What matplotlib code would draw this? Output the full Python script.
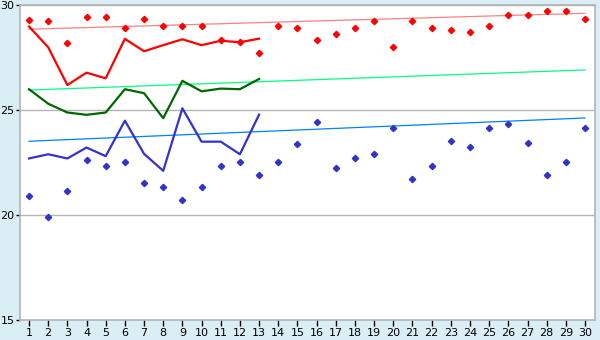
import matplotlib
matplotlib.use('Agg')
import matplotlib.pyplot as plt
import numpy as np

days = list(range(1, 31))

red_pts = [29.32, 29.24, 28.22, 29.43, 29.43, 28.9, 29.33, 29.0, 29.0, 29.0,
           28.33, 28.24, 27.71, 29.0, 28.9, 28.33, 28.62, 28.9, 29.24, 28.0,
           29.24, 28.9, 28.81, 28.71, 29.0, 29.52, 29.52, 29.71, 29.71, 29.33]
blue_pts = [20.9, 19.9, 21.14, 22.62, 22.33, 22.52, 21.52, 21.33, 20.71, 21.33,
            22.33, 22.52, 21.9, 22.52, 23.41, 24.43, 22.24, 22.71, 22.9, 24.14,
            21.71, 22.33, 23.52, 23.24, 24.14, 24.33, 23.43, 21.9, 22.52, 24.14]

red_line = [28.99, 28.0, 26.2, 26.79, 26.52, 28.4, 27.81, 28.1, 28.38, 28.1, 28.31, 28.24, 28.41]
green_line = [26.0, 25.31, 24.89, 24.78, 24.89, 26.0, 25.81, 24.62, 26.4, 25.9, 26.03, 26.0, 26.49]
blue_line = [22.7, 22.9, 22.7, 23.22, 22.81, 24.5, 22.92, 22.11, 25.09, 23.5, 23.5, 22.9, 24.79]

trend_days = [1, 30]
red_trend = [28.86, 29.62]
green_trend = [25.96, 26.92]
blue_trend = [23.52, 24.63]

bg = '#daeef5'
fig = plt.figure(figsize=(6, 3.4), dpi=100, facecolor=bg)
ax = fig.add_axes([20/600, 20/340, 575/600, 314.7/340])
ax.set_facecolor('white')

for y in [20, 25, 30]:
    ax.axhline(y, color='#b4b4b4', lw=1, zorder=1)

ax.plot(trend_days, red_trend, color='#ff8080', lw=0.9, zorder=2)
ax.plot(trend_days, green_trend, color='#00ff80', lw=0.9, zorder=2)
ax.plot(trend_days, blue_trend, color='#0080ff', lw=0.9, zorder=2)

n = len(red_line)
ax.plot(days[:n], red_line, color='#ff0000', lw=1.6, zorder=3)
ax.plot(days[:n], green_line, color='#006600', lw=1.6, zorder=3)
ax.plot(days[:n], blue_line, color='#3333cc', lw=1.6, zorder=3)

ax.plot(days, red_pts, ls='none', marker='D', ms=3.2, color='#ff0000', zorder=4)
ax.plot(days, blue_pts, ls='none', marker='D', ms=3.2, color='#3333cc', zorder=4)

ax.set_xlim(0.53, 30.52)
ax.set_ylim(15, 30)
ax.set_xticks(days)
ax.set_yticks([15, 20, 25, 30])
ax.tick_params(axis='both', direction='out', length=4, width=1, color='#000000',
               labelsize=8, pad=2)
ax.tick_params(axis='y', length=3, pad=1)
for s in ax.spines.values():
    s.set_color('#b4b4b4')
    s.set_linewidth(1.2)

fig.savefig('out.png', dpi=100, facecolor=bg)
